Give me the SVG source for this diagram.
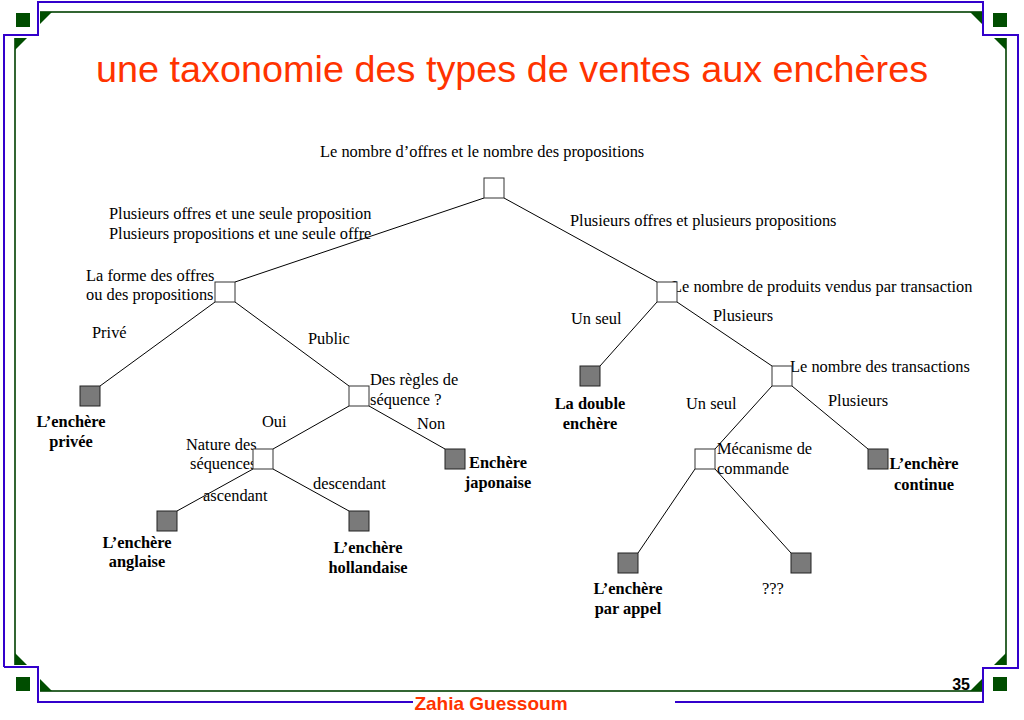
<svg xmlns="http://www.w3.org/2000/svg" width="1024" height="720" viewBox="0 0 1024 720">
<defs>
<style>
.t{font-family:"Liberation Serif","Times New Roman",serif;font-size:16.4px;fill:#000}
.b{font-family:"Liberation Serif","Times New Roman",serif;font-size:16.4px;font-weight:bold;fill:#000;text-anchor:middle}
.dec{fill:#004d00}
.blue{fill:none;stroke:#3300cc;stroke-width:2}
.green{fill:none;stroke:#336633;stroke-width:2}
.edge{stroke:#000;stroke-width:1;fill:none}
.q{fill:#fff;stroke:#333;stroke-width:1}
.leaf{fill:#7a7a7a;stroke:#222;stroke-width:1}
</style>
</defs>
<rect width="1024" height="720" fill="#fff"/>
<g id="frame">
<path class="blue" d="M4,667 V35 H38 V2 H983 V35 H1018 V668 H983 V702 H675 M413,702 H38 V667 H4"/>
<path class="green" d="M40,12 H982 M15,38 V665 M1006,38 V665 M40,691 H982"/>
<polygon class="dec" points="40,12 52,12 40,24"/>
<polygon class="dec" points="15,38 27,38 15,50"/>
<polygon class="dec" points="970,12 982,12 982,24"/>
<polygon class="dec" points="994,38 1006,38 1006,50"/>
<polygon class="dec" points="15,653 15,665 27,665"/>
<polygon class="dec" points="40,679 40,691 52,691"/>
<polygon class="dec" points="970,691 982,691 982,679"/>
<polygon class="dec" points="994,665 1006,665 1006,653"/>
<rect class="dec" x="16" y="13" width="14" height="14"/>
<rect class="dec" x="993" y="13" width="14" height="14"/>
<rect class="dec" x="16" y="677" width="14" height="14"/>
<rect class="dec" x="993" y="677" width="14" height="14"/>
<text x="491" y="710" font-family="Liberation Sans,Arial,sans-serif" font-size="19" font-weight="bold" fill="#ff3300" text-anchor="middle">Zahia Guessoum</text>
<text x="970" y="690" font-family="Liberation Sans,Arial,sans-serif" font-size="16" font-weight="bold" fill="#000" text-anchor="end">35</text>
</g>
<text id="title" x="96" y="82" font-family="Liberation Sans,Arial,sans-serif" font-size="37.8" fill="#ff3300">une taxonomie des types de ventes aux enchères</text>
<g id="edge-labels">
<text class="t" x="109" y="219">Plusieurs offres et une seule proposition</text>
<text class="t" x="109" y="239">Plusieurs propositions et une seule offre</text>
<text class="t" x="570" y="226">Plusieurs offres et plusieurs propositions</text>
<text class="t" x="92" y="338">Privé</text>
<text class="t" x="308" y="344">Public</text>
<text class="t" x="262" y="427">Oui</text>
<text class="t" x="417" y="429">Non</text>
<text class="t" x="313" y="489">descendant</text>
<text class="t" x="203" y="501">ascendant</text>
<text class="t" x="571" y="324">Un seul</text>
<text class="t" x="713" y="321">Plusieurs</text>
<text class="t" x="686" y="409">Un seul</text>
<text class="t" x="828" y="406">Plusieurs</text>
</g>
<g id="connectors">
<line class="edge" x1="484" y1="198" x2="235" y2="282"/>
<line class="edge" x1="504" y1="198" x2="657" y2="282"/>
<line class="edge" x1="215" y1="302" x2="100" y2="386"/>
<line class="edge" x1="235" y1="302" x2="349" y2="386"/>
<line class="edge" x1="349" y1="406" x2="273" y2="449"/>
<line class="edge" x1="369" y1="406" x2="445" y2="449"/>
<line class="edge" x1="253" y1="469" x2="177" y2="511"/>
<line class="edge" x1="273" y1="469" x2="349" y2="511"/>
<line class="edge" x1="657" y1="302" x2="600" y2="366"/>
<line class="edge" x1="677" y1="302" x2="772" y2="366"/>
<line class="edge" x1="772" y1="386" x2="715" y2="449"/>
<line class="edge" x1="792" y1="386" x2="868" y2="449"/>
<line class="edge" x1="695" y1="469" x2="638" y2="553"/>
<line class="edge" x1="715" y1="469" x2="791" y2="553"/>
</g>
<g id="root">
<text class="t" x="320" y="157">Le nombre d’offres et le nombre des propositions</text>
<rect class="q" x="484" y="178" width="20" height="20"/>
</g>
<g id="forme">
<text class="t" x="86" y="281">La forme des offres</text>
<text class="t" x="86" y="300">ou des propositions</text>
<rect class="q" x="215" y="282" width="20" height="20"/>
</g>
<g id="produits">
<text class="t" x="672" y="292">Le nombre de produits vendus par transaction</text>
<rect class="q" x="657" y="282" width="20" height="20"/>
</g>
<g id="regles">
<text class="t" x="370" y="385">Des règles de</text>
<text class="t" x="370" y="405">séquence ?</text>
<rect class="q" x="349" y="386" width="20" height="20"/>
</g>
<g id="nature">
<text class="t" x="186" y="450">Nature des</text>
<text class="t" x="190" y="469">séquences</text>
<rect class="q" x="253" y="449" width="20" height="20"/>
</g>
<g id="transactions">
<text class="t" x="790" y="372">Le nombre des transactions</text>
<rect class="q" x="772" y="366" width="20" height="20"/>
</g>
<g id="mecanisme">
<text class="t" x="717" y="454">Mécanisme de</text>
<text class="t" x="717" y="474">commande</text>
<rect class="q" x="695" y="449" width="20" height="20"/>
</g>
<g id="privee">
<rect class="leaf" x="80" y="386" width="20" height="20"/>
<text class="b" x="71" y="427">L’enchère</text>
<text class="b" x="71" y="447">privée</text>
</g>
<g id="japonaise">
<rect class="leaf" x="445" y="449" width="20" height="20"/>
<text class="b" x="498" y="468">Enchère</text>
<text class="b" x="498" y="488">japonaise</text>
</g>
<g id="anglaise">
<rect class="leaf" x="157" y="511" width="20" height="20"/>
<text class="b" x="137" y="548">L’enchère</text>
<text class="b" x="137" y="567">anglaise</text>
</g>
<g id="hollandaise">
<rect class="leaf" x="349" y="511" width="20" height="20"/>
<text class="b" x="368" y="553">L’enchère</text>
<text class="b" x="368" y="573">hollandaise</text>
</g>
<g id="double">
<rect class="leaf" x="580" y="366" width="20" height="20"/>
<text class="b" x="590" y="409">La double</text>
<text class="b" x="590" y="429">enchère</text>
</g>
<g id="continue">
<rect class="leaf" x="868" y="449" width="20" height="20"/>
<text class="b" x="924" y="469">L’enchère</text>
<text class="b" x="924" y="490">continue</text>
</g>
<g id="appel">
<rect class="leaf" x="618" y="553" width="20" height="20"/>
<text class="b" x="628" y="594">L’enchère</text>
<text class="b" x="628" y="614">par appel</text>
</g>
<g id="inconnu">
<rect class="leaf" x="791" y="553" width="20" height="20"/>
<text class="t" x="762" y="594">???</text>
</g>
</svg>
